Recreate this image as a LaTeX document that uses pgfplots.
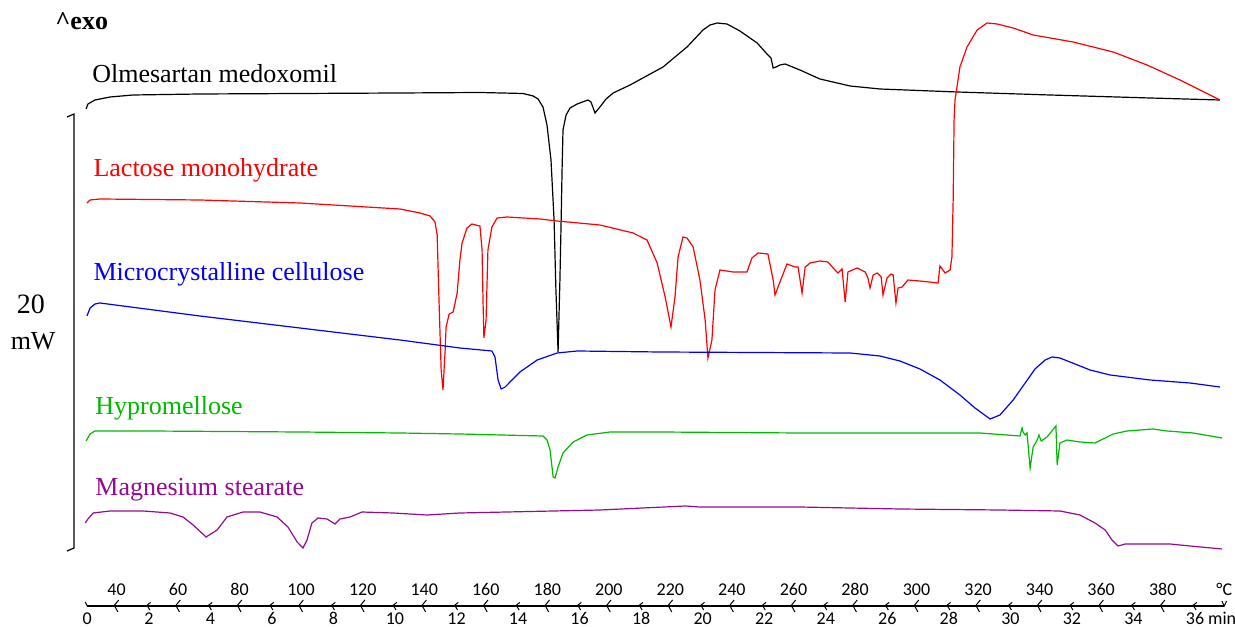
\documentclass[border=0pt]{standalone}
\usepackage{fontspec}
\setmainfont{Liberation Serif}
\newfontfamily\tickfont{Carlito}
\usepackage{pgfplots}
\usepackage{pgfplotstable}
\pgfplotsset{compat=1.18}

\definecolor{dscgreen}{RGB}{0,185,0}
\definecolor{dscpurple}{RGB}{150,10,145}
\definecolor{dscblue}{RGB}{0,0,245}

\tikzset{lbl/.style={anchor=base west, inner sep=0pt, font=\fontsize{13}{15}\selectfont}}

% T in degC, y = heat flow (arbitrary offset units)
\pgfplotstableread{
T y
30.1 517
30.7 522
33.0 526
37.9 529
45.4 531
67.1 532
99.6 532.5
132.1 533
158.1 533.5
172.1 532.5
175.4 530
177.0 527
178.6 519
179.9 501
181.2 466
182.2 406
182.8 336
183.5 274
184.1 346
184.5 406
184.8 456
185.1 496
186.1 511
187.4 518
189.7 522
193.2 526
194.2 524
195.5 513
197.1 519
199.1 527
201.4 533
206.9 541
217.6 559
225.4 579
230.6 596
232.9 601
235.2 603
238.4 602
242.6 595
248.2 583
251.4 572
252.7 568
253.4 558
254.3 559
255.6 561
257.3 562
262.1 556
268.6 547
278.4 540
288.1 537
313.2 534
343.4 531
375.9 528
398.6 526
}\olmesartan

\pgfplotstableread{
T y
30.4 423
31.4 426
34.6 427
50.9 426.5
67.1 426
99.6 423
115.9 420
132.1 417
138.6 413
141.9 410
143.5 404
144.2 391
144.8 326
145.5 256
146.1 236
146.8 276
147.1 299
148.1 312
149.4 314
150.7 333
151.6 366
152.3 383
153.9 398
155.5 402
158.1 400
158.8 376
159.1 326
159.4 288
160.1 306
160.7 376
162.0 399
163.7 408
166.9 409
177.6 407
183.2 405
197.1 401
207.9 393
212.4 386
215.7 363
218.3 329
220.2 299
221.5 329
222.5 369
224.1 389
225.4 388
227.4 379
229.6 346
231.3 306
232.2 268
233.5 286
234.5 336
236.1 356
240.4 354
244.9 354
246.5 368
248.5 373
251.7 372
253.4 346
254.0 331
255.6 344
257.9 362
260.5 359
261.5 359
262.8 333
263.8 359
265.4 363
268.6 365
271.2 364
273.5 356
274.5 353
275.8 357
276.8 324
277.7 354
280.7 358
283.3 354
284.2 348
284.9 338
285.9 351
287.2 353
288.5 349
289.1 331
290.4 348
291.7 352
292.4 351
293.3 323
294.0 338
295.3 339
297.2 346
301.1 345
307.0 343
307.6 360
309.3 353
310.9 356
311.5 369
311.9 426
312.2 506
312.5 526
314.1 559
316.4 579
319.7 596
322.9 603
326.2 602
331.4 598
337.9 591
350.9 584
363.9 574
374.9 561
385.6 546
398.6 526
}\lactose

\pgfplotstableread{
T y
30.4 310
31.4 318
33.0 322
34.6 323
67.1 310
99.6 298
132.1 286
151.6 278
162.0 275
163.0 269
164.0 246
165.0 237
166.3 239
171.1 254
176.7 266
183.2 273
189.7 275
216.6 274
278.4 273
288.1 270
294.6 265
301.1 257
307.6 246
314.1 231
319.0 218
323.9 207
327.1 211
331.4 226
335.3 243
338.5 257
341.8 266
344.0 269
346.6 268
351.5 262
356.4 256
362.9 251
375.9 246
388.9 243
398.6 239
}\mcc

\pgfplotstableread{
T y
30.1 185
31.4 192
33.0 195
50.9 195
99.6 194
132.1 193
151.6 192
178.6 190
179.9 186
180.9 176
181.9 149
182.5 148
183.5 159
185.1 173
188.4 184
192.9 191
200.4 194
216.6 194
262.1 193
320.6 193
333.6 190
334.3 198
334.6 194
335.3 191
335.9 193
336.9 158
337.9 179
339.2 186
339.8 191
340.5 185
342.4 189
345.3 200
345.7 161
346.6 183
348.9 186
353.1 184
358.0 183
363.9 192
368.4 195
376.9 197
381.4 195
389.9 193
399.3 188
}\hpmc

\pgfplotstableread{
T y
29.8 103
30.7 107
32.4 113
37.9 115
48.6 115
57.4 113
61.6 109
64.9 101
69.1 89
72.7 96
75.9 109
81.1 114
86.6 114
92.2 109
95.7 99
98.7 84
100.6 78
101.9 86
103.5 103
105.5 108
108.4 107
111.0 102
112.6 107
115.9 109
119.8 114
129.9 113
140.9 111
151.6 113
197.1 116
224.8 120
229.6 119
262.1 119
294.6 117
327.1 116
346.6 115
353.1 111
358.0 103
361.3 96
363.5 86
365.5 80
367.8 82
372.6 82
382.4 82
388.9 80
399.3 77
}\mgst

\begin{document}
\begin{tikzpicture}
\begin{axis}[
  scale only axis,
  width=617.5pt, height=303pt,
  xmin=2.13, xmax=403.5,
  ymin=20, ymax=626,
  clip=false,
  axis x line*=bottom,
  hide y axis,
  x axis line style={draw=none},
  major tick length=0pt,
  xtick style={draw=none},
  xtick={40,60,80,100,120,140,160,180,200,220,240,260,280,300,320,340,360,380,400},
  xticklabels={40,60,80,100,120,140,160,180,200,220,240,260,280,300,320,340,360,380,°C},
  extra x ticks={30.5,50.5,70.5,90.5,110.5,130.5,150.5,170.5,190.5,210.5,230.5,250.5,270.5,290.5,310.5,330.5,350.5,370.5,390.5},
  extra x tick labels={0,2,4,6,8,10,12,14,16,18,20,22,24,26,28,30,32,34,36\rlap{ min}},
  xticklabel style={anchor=base, inner sep=0pt, yshift=5.2pt, font=\tickfont\fontsize{9}{10}\selectfont},
  extra x tick style={xticklabel style={anchor=base, inner sep=0pt, yshift=-14.2pt}},
  every axis plot/.append style={line width=0.6pt},
]
\addplot[black] table[x=T, y=y] {\olmesartan};
\addplot[red] table[x=T, y=y] {\lactose};
\addplot[dscblue] table[x=T, y=y] {\mcc};
\addplot[dscgreen] table[x=T, y=y] {\hpmc};
\addplot[dscpurple] table[x=T, y=y] {\mgst};

% time axis line with chevron ticks
\draw[black, line width=0.6pt] (axis cs:30.5,20) -- (axis cs:400,20);
\pgfplotsinvokeforeach{40,60,80,100,120,140,160,180,200,220,240,260,280,300,320,340,360,380}{
  \draw[black, line width=0.5pt] ([xshift=1.1pt,yshift=3pt]axis cs:#1,20) -- ([xshift=-1.1pt,yshift=0.3pt]axis cs:#1,20) -- ([xshift=0.7pt,yshift=-3pt]axis cs:#1,20);
}
\pgfplotsinvokeforeach{50.5,70.5,90.5,110.5,130.5,150.5,170.5,190.5,210.5,230.5,250.5,270.5,290.5,310.5,330.5,350.5,370.5,390.5}{
  \draw[black, line width=0.5pt] ([xshift=0.9pt,yshift=1.8pt]axis cs:#1,20) -- ([xshift=-0.9pt,yshift=0.4pt]axis cs:#1,20) -- ([xshift=0.5pt,yshift=-2pt]axis cs:#1,20);
}
\draw[black, line width=0.5pt] ([xshift=-1pt,yshift=2pt]axis cs:30.5,20) -- (axis cs:30.5,20);
\draw[black, line width=0.5pt] ([xshift=-1.2pt,yshift=2.5pt]axis cs:400,20) -- (axis cs:400,20) -- ([xshift=1.2pt,yshift=2.5pt]axis cs:400,20);

% 20 mW scale bar
\draw[black, line width=0.6pt] (axis cs:23.9,509) -- (axis cs:26.2,512) -- (axis cs:26.2,78) -- (axis cs:23.9,75);
\node[anchor=base, inner sep=0pt, font=\fontsize{14}{16}\selectfont] at (axis cs:12.2,312) {20};
\node[anchor=base, inner sep=0pt, font=\fontsize{13}{15}\selectfont] at (axis cs:12.9,276) {mW};

\node[lbl] at (axis cs:20.0,596) {\textbf{\textasciicircum exo}};
\node[lbl, text=black] at (axis cs:32.0,543) {Olmesartan medoxomil};
\node[lbl, text=red] at (axis cs:32.4,449) {Lactose monohydrate};
\node[lbl, text=dscblue] at (axis cs:32.4,345) {Microcrystalline cellulose};
\node[lbl, text=dscgreen] at (axis cs:33.0,211) {Hypromellose};
\node[lbl, text=dscpurple] at (axis cs:33.0,130) {Magnesium stearate};

\coordinate (bbsw) at (axis cs:2.13,0);
\coordinate (bbne) at (axis cs:403.5,626);
\end{axis}
\pgfresetboundingbox
\path[use as bounding box] (bbsw) rectangle (bbne);
\end{tikzpicture}
\end{document}
